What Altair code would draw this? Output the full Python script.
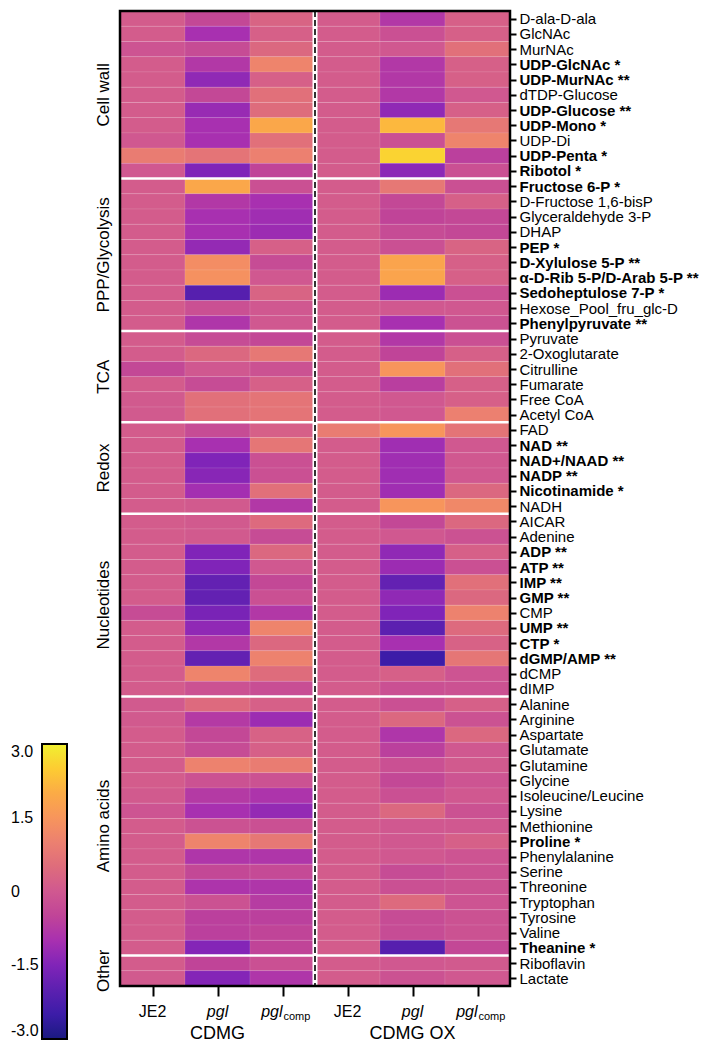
import altair as alt
import pandas as pd

# ---------------- data ----------------
metabolites = [
    "D-ala-D-ala", "GlcNAc", "MurNAc", "UDP-GlcNAc *", "UDP-MurNAc **", "dTDP-Glucose",
    "UDP-Glucose **", "UDP-Mono *", "UDP-Di", "UDP-Penta *", "Ribotol *",
    "Fructose 6-P *", "D-Fructose 1,6-bisP", "Glyceraldehyde 3-P", "DHAP", "PEP *",
    "D-Xylulose 5-P **", "α-D-Rib 5-P/D-Arab 5-P **", "Sedoheptulose 7-P *",
    "Hexose_Pool_fru_glc-D", "Phenylpyruvate **",
    "Pyruvate", "2-Oxoglutarate", "Citrulline", "Fumarate", "Free CoA", "Acetyl CoA",
    "FAD", "NAD **", "NAD+/NAAD **", "NADP **", "Nicotinamide *", "NADH",
    "AICAR", "Adenine", "ADP **", "ATP **", "IMP **", "GMP **", "CMP", "UMP **", "CTP *",
    "dGMP/AMP **", "dCMP", "dIMP",
    "Alanine", "Arginine", "Aspartate", "Glutamate", "Glutamine", "Glycine",
    "Isoleucine/Leucine", "Lysine", "Methionine", "Proline *", "Phenylalanine", "Serine",
    "Threonine", "Tryptophan", "Tyrosine", "Valine", "Theanine *",
    "Riboflavin", "Lactate",
]
groups = ["Cell wall", "PPP/Glycolysis", "TCA", "Redox", "Nucleotides", "Amino acids", "Other"]
group_sizes = [11, 10, 6, 6, 12, 17, 2]
conditions = ["CDMG", "CDMG OX"]
strains = ["JE2", "pgl", "pgl"]          # third one carries the "comp" subscript
subscripts = ["", "", "comp"]

je2_cdmg = [0.1, 0.1, -0.1, 0.1, 0.1, 0.1, 0.1, 0.1, 0.0, 0.9, 0.0,
            0.1, 0.1, 0.1, 0.1, 0.1, 0.1, 0.1, 0.1, 0.1, 0.1,
            0.1, 0.1, -0.4, 0.1, 0.05, 0.05,
            0.1, 0.1, 0.1, 0.1, 0.1, 0.1,
            0.1, 0.1, 0.1, 0.1, 0.1, 0.1, -0.3, 0.1, 0.1, 0.1, 0.1, 0.1,
            0.05, 0.05, 0.1, 0.1, 0.1, 0.1, 0.05, -0.1, 0.1, 0.1, 0.1, 0.1, 0.1, 0.1, 0.1, 0.1, 0.1,
            0.1, 0.05]
pgl_cdmg = [-0.4, -1.0, -0.3, -0.8, -1.3, -0.4, -1.2, -1.0, -1.0, 0.7, -1.5,
            1.9, -0.8, -1.0, -1.0, -1.25, 1.3, 1.4, -2.1, -0.2, -0.85,
            -0.3, 0.4, 0.0, -0.3, 0.6, 0.6,
            -0.3, -1.0, -1.5, -1.4, -1.05, 0.05,
            0.05, 0.05, -1.5, -1.5, -1.9, -1.9, -1.6, -1.3, -0.8, -1.9, 1.1, -0.15,
            0.45, -0.75, -0.4, -0.3, 1.05, -0.15, -0.75, -1.0, -0.15, 1.1, -0.85, -0.4, -0.9, -0.15, -0.6, -0.6, -1.45,
            -0.5, -1.45]
comp_cdmg = [0.3, 0.2, 0.4, 1.1, 0.2, 0.6, 0.5, 1.9, 0.6, 1.0, -0.5,
             -0.2, -1.0, -1.1, -1.15, 0.2, -0.3, 0.0, 0.3, 0.0, 0.0,
             -0.4, 0.8, -0.15, 0.2, 0.7, 0.7,
             0.2, 0.75, -0.2, -0.2, 0.6, -0.8,
             0.45, -0.3, 0.4, 0.0, -0.4, -0.2, -0.8, 1.1, 0.4, 1.05, 0.5, -0.25,
             0.2, -1.15, 0.25, 0.2, 0.9, -0.15, -0.9, -1.25, -0.2, 0.8, -0.85, -0.35, -0.85, -0.7, -0.6, -0.5, -0.5,
             -0.2, -0.85]
je2_ox = [0.1, 0.1, 0.1, 0.1, 0.1, 0.1, 0.1, 0.1, 0.1, 0.1, 0.1,
          0.1, 0.1, 0.1, 0.1, 0.1, 0.1, 0.1, 0.1, 0.1, 0.1,
          0.1, 0.1, 0.1, 0.1, 0.1, 0.1,
          0.9, 0.1, 0.1, 0.1, 0.1, 0.1,
          0.1, 0.1, 0.1, 0.1, 0.1, 0.1, 0.1, 0.1, 0.1, 0.1, 0.1, 0.1,
          0.1, 0.1, 0.1, 0.1, 0.1, 0.1, 0.1, 0.1, 0.1, 0.1, 0.1, 0.1, 0.1, 0.1, 0.1, 0.1, 0.1,
          0.1, 0.1]
pgl_ox = [-0.8, -0.2, 0.0, -0.8, -0.8, -0.8, -1.3, 2.2, -0.2, 2.6, -1.35,
          0.8, -0.4, -0.5, -0.3, -0.2, 1.85, 1.85, -1.15, 0.0, -1.0,
          -0.8, -0.5, 1.5, -0.65, 0.0, 0.0,
          1.5, -1.1, -1.1, -1.1, -1.1, 1.5,
          -0.4, 0.0, -1.3, -1.15, -1.9, -1.3, -1.5, -2.0, -1.0, -2.5, 0.2, -0.2,
          -0.2, 0.4, -0.85, -0.6, -0.2, -0.4, -0.2, 0.4, 0.0, 0.0, 0.0, -0.3, -0.2, 0.45, -0.3, -0.3, -2.1,
          0.0, -0.15]
comp_ox = [0.2, 0.2, 0.6, 0.2, 0.2, 0.0, 0.2, 0.8, 1.1, -0.6, -0.2,
           -0.2, 0.2, -0.4, -0.4, 0.3, 0.2, 0.2, -0.2, 0.0, -0.15,
           -0.2, 0.2, 0.6, 0.2, 0.2, 1.0,
           0.7, 0.0, 0.0, 0.0, 0.4, 1.2,
           0.4, -0.15, 0.2, -0.2, 0.6, 0.4, 1.05, 0.45, 0.25, 0.75, -0.1, -0.15,
           0.2, -0.15, 0.4, 0.0, 0.05, -0.1, 0.0, -0.15, 0.0, 0.2, -0.1, -0.15, -0.15, -0.1, -0.15, -0.15, -0.4,
           0.05, 0.0]

color_stops = [-3, -2.5, -2, -1.5, -1, -0.5, 0, 0.5, 1, 1.5, 2, 2.5, 3]
color_range = ["#1a1a80", "#3c1ca8", "#5c20b0", "#8024b8", "#a830b0", "#c04498", "#d05890",
               "#de6c7c", "#ec8070", "#f7955c", "#fbab46", "#fdcc32", "#f0f030"]
legend_ticks = [-3, -1.5, 0, 1.5, 3]

# ---------------- tables ----------------
series = [je2_cdmg, pgl_cdmg, comp_cdmg, je2_ox, pgl_ox, comp_ox]
n_rows = len(metabolites)
n_cols = len(series)
cells = pd.DataFrame([
    {"r0": r, "r1": r + 1, "c0": c, "c1": c + 1, "v": v, "name": metabolites[r]}
    for c, s in enumerate(series) for r, v in enumerate(s)
])

starts = [sum(group_sizes[:i]) for i in range(len(groups))]
group_df = pd.DataFrame({"g": groups, "mid": [s + n / 2 for s, n in zip(starts, group_sizes)]})
sep_df = pd.DataFrame({"b": starts[1:]})
col_df = pd.DataFrame({
    "cx": [c + 0.5 for c in range(n_cols)],
    "s": strains * len(conditions),
    "sub": subscripts * len(conditions),
})
cond_df = pd.DataFrame({"cond": conditions, "cx": [1.5, 4.5]})
div_df = pd.DataFrame({"d": [3]})

bold_idx = [i for i, m in enumerate(metabolites) if "*" in m]
names_js = "[" + ",".join("'" + m + "'" for m in metabolites) + "]"

W, H = 390, 975
FONT = "Liberation Sans"

xs = alt.Scale(domain=[0, n_cols], nice=False, zero=False)
ys = alt.Scale(domain=[0, n_rows], reverse=True, nice=False, zero=False)

heat = alt.Chart(cells).mark_rect(stroke="white", strokeWidth=0.5, strokeOpacity=0.2).encode(
    x=alt.X("c0:Q", scale=xs, axis=alt.Axis(
        values=[c + 0.5 for c in range(n_cols)], tickCount=20, labels=False, ticks=True,
        tickSize=10, tickWidth=2, tickColor="black", domain=False, grid=False, title=None)),
    x2="c1:Q",
    y=alt.Y("r0:Q", scale=ys, axis=alt.Axis(
        orient="right", values=[i + 0.5 for i in range(n_rows)], tickCount=200,
        labelExpr=names_js + "[floor(datum.value)]",
        labelFontWeight={"condition": {"test": "indexof(" + str(bold_idx) + ", floor(datum.value)) >= 0",
                                       "value": "bold"}, "value": "normal"},
        labelFontSize=15, labelFont=FONT, labelColor="black", labelPadding=3,
        labelOverlap=False, labelFlush=False, labelBound=False, labelLimit=400,
        tickSize=6, tickWidth=2, tickColor="black", domain=False, grid=False, title=None)),
    y2="r1:Q",
    color=alt.Color("v:Q", scale=alt.Scale(domain=color_stops, range=color_range,
                                           interpolate="rgb", clamp=True),
                    legend=alt.Legend(orient="none", legendX=-78, legendY=733,
                                      direction="vertical", gradientLength=295,
                                      gradientThickness=25, title=None, values=legend_ticks,
                                      labelExpr="datum.value == 0 ? '0' : (datum.value < 0 ? '-' : '') + format(abs(datum.value), '.1f')",
                                      labelFontSize=16, labelFont=FONT, labelColor="black",
                                      labelOffset={"expr": "-56"}, labelBaseline="middle",
                                      gradientStrokeColor="black", gradientStrokeWidth=2,
                                      padding=0)),
)

seps = alt.Chart(sep_df).mark_rule(color="white", strokeWidth=2.5).encode(
    y=alt.Y("b:Q", scale=ys), x=alt.value(0), x2=alt.value(W))

div_bg = alt.Chart(div_df).mark_rule(color="white", strokeWidth=5).encode(
    x=alt.X("d:Q", scale=xs), y=alt.value(0), y2=alt.value(H))
div_dash = alt.Chart(div_df).mark_rule(color="black", strokeWidth=1.6, strokeDash=[6, 3]).encode(
    x=alt.X("d:Q", scale=xs), y=alt.value(0), y2=alt.value(H))

frame = alt.Chart(div_df).mark_rect(fillOpacity=0, stroke="black", strokeWidth=2.5).encode(
    x=alt.value(0), x2=alt.value(W), y=alt.value(0), y2=alt.value(H))

grp_text = alt.Chart(group_df).mark_text(angle=270, fontSize=17, font=FONT, color="black",
                                         align="center", baseline="middle").encode(
    y=alt.Y("mid:Q", scale=ys), x=alt.value(-16), text="g:N")

normal_lbl = alt.Chart(col_df).transform_filter("datum.s == 'JE2'").mark_text(
    fontSize=16, font=FONT, color="black", align="center", baseline="middle").encode(
    x=alt.X("cx:Q", scale=xs), y=alt.value(H + 26), text="s:N")
pgl_lbl = alt.Chart(col_df).transform_filter("datum.s == 'pgl' && datum.sub == ''").mark_text(
    fontSize=16, font=FONT, fontStyle="italic", color="black", align="center", baseline="middle").encode(
    x=alt.X("cx:Q", scale=xs), y=alt.value(H + 26), text="s:N")
comp_main = alt.Chart(col_df).transform_filter("datum.sub != ''").mark_text(
    fontSize=16, font=FONT, fontStyle="italic", color="black", align="right", baseline="middle").encode(
    x=alt.X("cx:Q", scale=xs), y=alt.value(H + 26), text="s:N")
comp_sub = alt.Chart(col_df).transform_filter("datum.sub != ''").mark_text(
    fontSize=11, font=FONT, color="black", align="left", baseline="middle", dx=1).encode(
    x=alt.X("cx:Q", scale=xs), y=alt.value(H + 31), text="sub:N")
cond_lbl = alt.Chart(cond_df).mark_text(fontSize=18, font=FONT, color="black",
                                        align="center", baseline="middle").encode(
    x=alt.X("cx:Q", scale=xs), y=alt.value(H + 48), text="cond:N")

chart = alt.layer(
    heat, seps, div_bg, div_dash, frame, grp_text,
    normal_lbl, pgl_lbl, comp_main, comp_sub, cond_lbl
).properties(
    width=W, height=H, padding={"left": 34, "top": 0, "right": 0, "bottom": 0}
).configure_view(strokeWidth=0).configure(font=FONT)

chart.save("out.html", embed_options={"renderer": "svg", "actions": False})
